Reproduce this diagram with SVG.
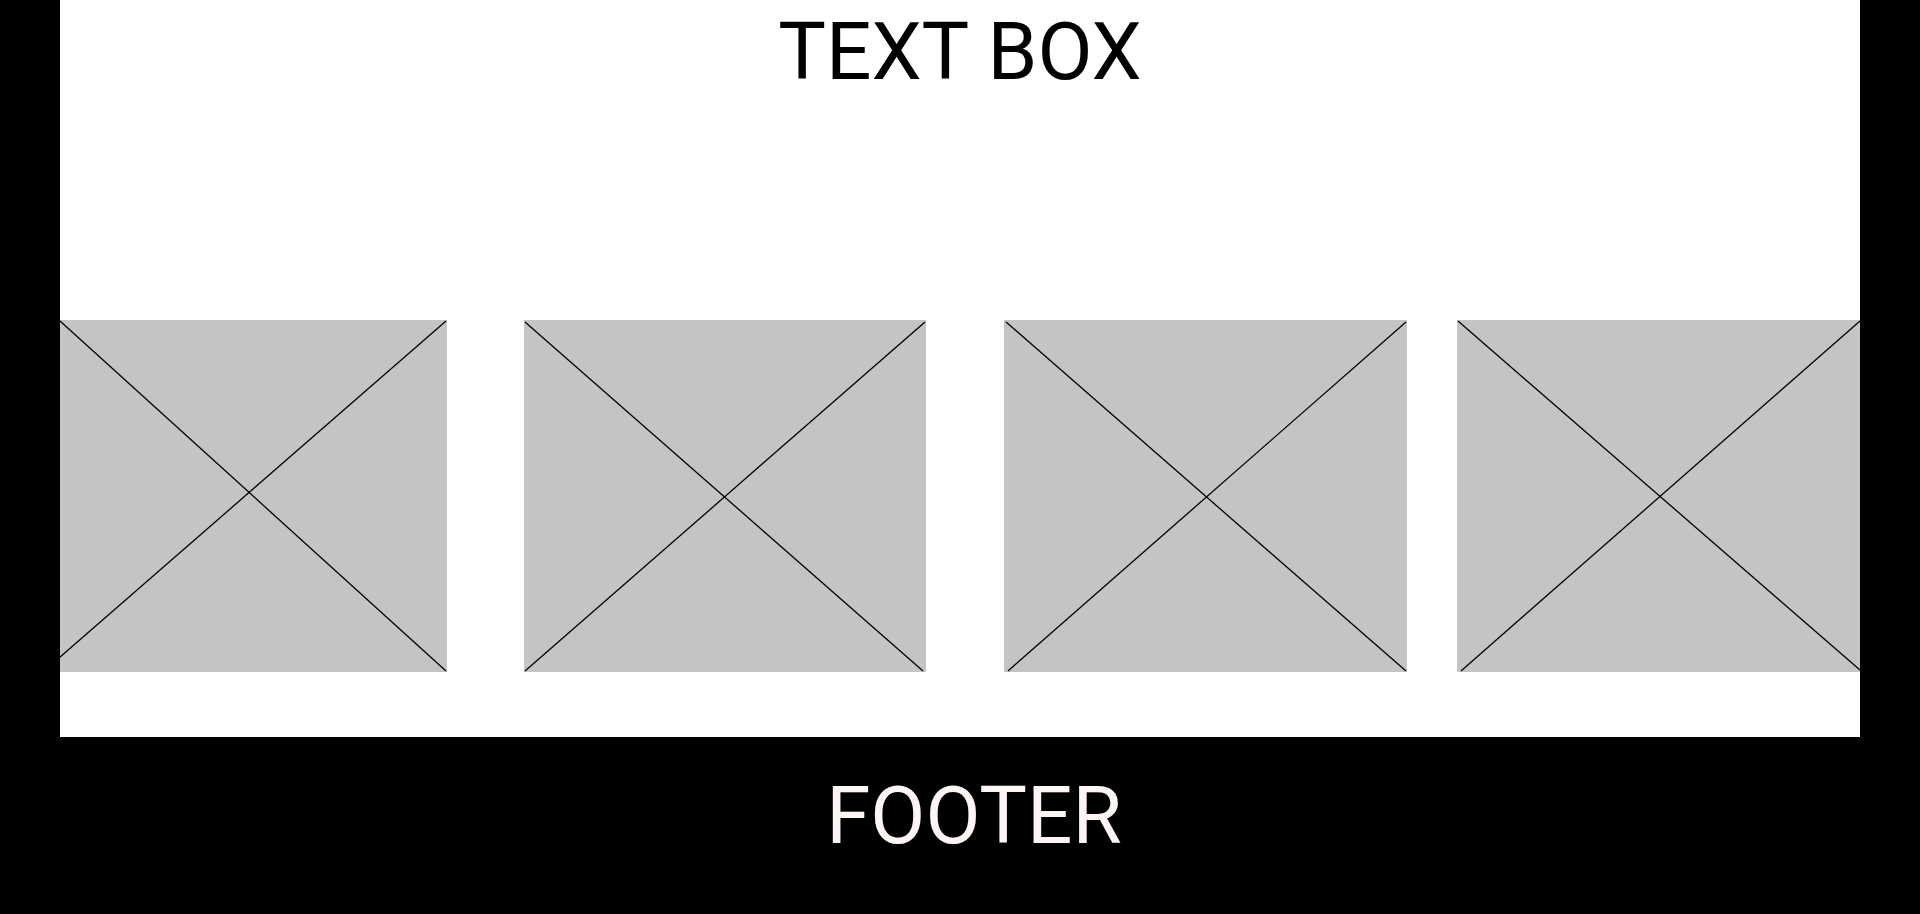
<svg xmlns="http://www.w3.org/2000/svg" width="1920" height="914" viewBox="0 0 1920 914">
  <style>
    .ph { fill: #c4c4c4; }
    .x { stroke: #000; stroke-width: 1.3; fill: none; }
    .title { font-family: Roboto, "Liberation Sans", sans-serif; font-size: 80px; fill: #000; }
    .foot { font-family: Roboto, "Liberation Sans", sans-serif; font-size: 80px; fill: #fdf4f4; }
  </style>
  <rect x="0" y="0" width="1920" height="914" fill="#ffffff"/>
  <g id="image1">
    <rect class="ph" x="44" y="320" width="403" height="352"/>
    <line class="x" x1="60" y1="321" x2="446" y2="671"/>
    <line class="x" x1="446" y1="321" x2="44" y2="671"/>
  </g>
  <g id="image2">
    <rect class="ph" x="524" y="320" width="402" height="352"/>
    <line class="x" x1="525" y1="322" x2="923" y2="671"/>
    <line class="x" x1="525" y1="671" x2="925" y2="322"/>
  </g>
  <g id="image3">
    <rect class="ph" x="1004" y="320" width="403" height="352"/>
    <line class="x" x1="1006" y1="322" x2="1406" y2="671"/>
    <line class="x" x1="1008" y1="671" x2="1406" y2="322"/>
  </g>
  <g id="image4">
    <rect class="ph" x="1457" y="320" width="403" height="352"/>
    <line class="x" x1="1458" y1="321" x2="1860" y2="670"/>
    <line class="x" x1="1461" y1="671" x2="1860" y2="321"/>
  </g>
  <g id="frame">
    <rect x="0" y="0" width="60" height="914" fill="#000"/>
    <rect x="1860" y="0" width="60" height="914" fill="#000"/>
    <rect x="0" y="737" width="1920" height="177" fill="#000"/>
  </g>
  <g id="textbox">
    <text class="title" x="960" y="79" text-anchor="middle">TEXT BOX</text>
  </g>
  <g id="footer">
    <text class="foot" x="974" y="843" text-anchor="middle">FOOTER</text>
  </g>
  <g id="connectors"/>
</svg>
